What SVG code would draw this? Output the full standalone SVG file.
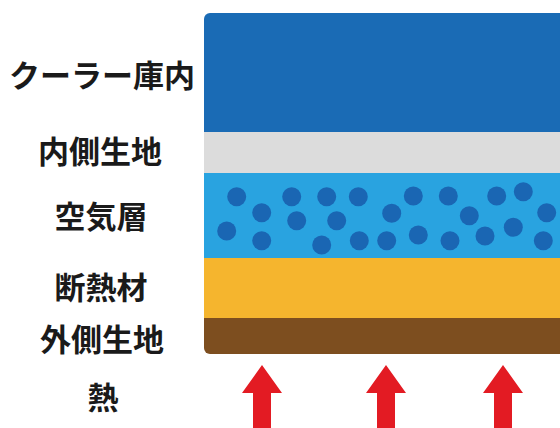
<svg xmlns="http://www.w3.org/2000/svg" width="560" height="428" viewBox="0 0 560 428">
<style>
.lbl{font-family:"Noto Sans CJK JP","Noto Sans CJK SC",sans-serif;font-weight:700;font-size:31px;fill:#1a1a1a;text-anchor:middle}
.dot{fill:#1a66b3}
.arrow{fill:#e31b23}
</style>
<defs>
<clipPath id="stack"><rect x="204" y="13" width="420" height="341" rx="6"/></clipPath>
<path id="arr" d="M0,0 L20,28 L9,28 L9,70 L-9,70 L-9,28 L-20,28 Z"/>
</defs>
<rect width="560" height="428" fill="#ffffff"/>
<g clip-path="url(#stack)">
<g id="cooler-inside"><rect x="204" y="13" width="420" height="119" fill="#1a6bb5"/></g>
<g id="inner-fabric"><rect x="204" y="132" width="420" height="41" fill="#dcdcdc"/></g>
<g id="air-layer">
<rect x="204" y="173" width="420" height="85" fill="#29a3e0"/>
<g class="dot">
<circle cx="236.7" cy="196.7" r="9.5"/><circle cx="261.7" cy="212.7" r="9.5"/><circle cx="226.7" cy="231" r="9.5"/><circle cx="261.7" cy="240.7" r="9.5"/>
<circle cx="291.7" cy="196.7" r="9.5"/><circle cx="296.7" cy="220.7" r="9.5"/><circle cx="326.7" cy="196.7" r="9.5"/><circle cx="336.7" cy="220.7" r="9.5"/>
<circle cx="321.7" cy="245" r="9.5"/><circle cx="358.3" cy="196.7" r="9.5"/><circle cx="359.3" cy="240.7" r="9.5"/><circle cx="386.7" cy="240.7" r="9.5"/>
<circle cx="391.7" cy="213.3" r="9.5"/><circle cx="413.3" cy="196" r="9.5"/><circle cx="418.3" cy="235" r="9.5"/><circle cx="448.3" cy="196" r="9.5"/>
<circle cx="450" cy="240.7" r="9.5"/><circle cx="469.3" cy="215.7" r="9.5"/><circle cx="485" cy="236" r="9.5"/><circle cx="496.7" cy="196" r="9.5"/>
<circle cx="523.3" cy="191.7" r="9.5"/><circle cx="513.3" cy="227.3" r="9.5"/><circle cx="546.7" cy="212.7" r="9.5"/><circle cx="543.3" cy="240.7" r="9.5"/>
</g>
</g>
<g id="insulation"><rect x="204" y="258" width="420" height="60" fill="#f5b52e"/></g>
<g id="outer-fabric"><rect x="204" y="318" width="420" height="36" fill="#7d4e1f"/></g>
</g>
<g id="labels">
<text class="lbl" x="102" y="87">クーラー庫内</text>
<text class="lbl" x="100" y="163">内側生地</text>
<text class="lbl" x="101" y="228">空気層</text>
<text class="lbl" x="101" y="299">断熱材</text>
<text class="lbl" x="102" y="351">外側生地</text>
<text class="lbl" x="103" y="409">熱</text>
</g>
<g id="connectors">
<use href="#arr" class="arrow" x="262" y="365"/>
<use href="#arr" class="arrow" x="386" y="365"/>
<use href="#arr" class="arrow" x="503" y="365"/>
</g>
</svg>
